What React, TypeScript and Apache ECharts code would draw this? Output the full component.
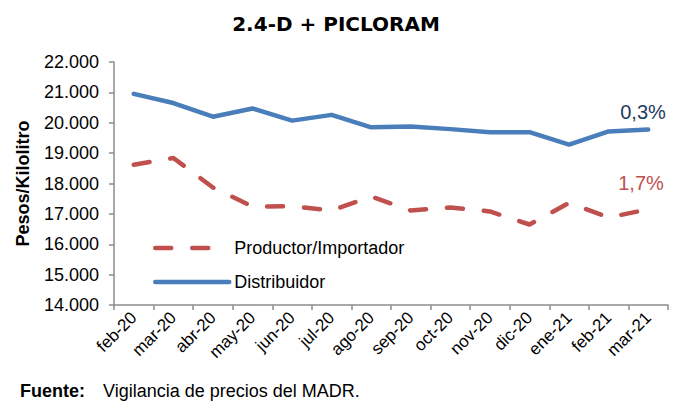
import React, { useEffect, useRef } from "react";
import * as echarts from "echarts";

const categories = ["feb-20", "mar-20", "abr-20", "may-20", "jun-20", "jul-20", "ago-20", "sep-20", "oct-20", "nov-20", "dic-20", "ene-21", "feb-21", "mar-21"];
const distribuidor = [20950, 20650, 20200, 20470, 20070, 20260, 19850, 19880, 19790, 19690, 19690, 19280, 19715, 19775];
const productor = [18620, 18840, 17870, 17240, 17250, 17110, 17570, 17110, 17210, 17080, 16650, 17360, 16880, 17150];
const distLabel = "0,3%";
const prodLabel = "1,7%";

const FONT = "'Liberation Sans', Arial, sans-serif";

export default function App() {
  const ref = useRef<HTMLDivElement>(null);
  useEffect(() => {
    document.body.style.margin = "0";
    if (!ref.current) return;
    const chart = echarts.init(ref.current, undefined, { renderer: "svg" });
    chart.setOption({
      animation: false,
      backgroundColor: "#ffffff",
      textStyle: { fontFamily: FONT },
      title: {
        text: "2.4-D + PICLORAM",
        left: 331,
        textAlign: "center",
        top: 9,
        textStyle: { fontSize: 20, fontWeight: "bold", color: "#000", fontFamily: "'DejaVu Sans', sans-serif" },
      },
      legend: {
        orient: "vertical",
        left: 153,
        top: 239,
        padding: 0,
        itemGap: 16,
        itemWidth: 74,
        itemHeight: 14,
        itemStyle: { opacity: 0 },
        lineStyle: { width: 4.5, cap: "round" },
        textStyle: { fontSize: 18, color: "#000", fontFamily: FONT },
        data: ["Productor/Importador", "Distribuidor"],
      },
      grid: { left: 114, right: 16, top: 62, bottom: 97, containLabel: false },
      xAxis: {
        type: "category",
        data: categories,
        boundaryGap: true,
        axisLine: { lineStyle: { color: "#8c8c8c", width: 1.5 } },
        axisTick: { show: true, length: 5, lineStyle: { color: "#8c8c8c", width: 1.5 } },
        axisLabel: { rotate: 45, fontSize: 17, color: "#000", margin: 10, fontFamily: FONT, interval: 0 },
      },
      yAxis: {
        type: "value",
        min: 14000,
        max: 22000,
        interval: 1000,
        name: "Pesos/Kilolitro",
        nameLocation: "middle",
        nameGap: 82,
        nameTextStyle: { fontSize: 18, fontWeight: "bold", color: "#000", fontFamily: FONT },
        axisLine: { show: true, lineStyle: { color: "#8c8c8c", width: 1.5 } },
        axisTick: { show: true, length: 5, lineStyle: { color: "#8c8c8c", width: 1.5 } },
        splitLine: { show: false },
        axisLabel: {
          fontSize: 18,
          color: "#000",
          margin: 15,
          fontFamily: FONT,
          formatter: (v: number) => (v / 1000).toFixed(3),
        },
      },
      series: [
        {
          name: "Productor/Importador",
          type: "line",
          data: productor,
          symbol: "none",
          itemStyle: { color: "#C0504D" },
          lineStyle: { color: "#C0504D", width: 4.5, type: [16, 21], cap: "round", join: "round" },
          endLabel: {
            show: true,
            formatter: prodLabel,
            color: "#C0504D",
            fontSize: 20,
            fontFamily: FONT,
            offset: [-38, -26],
          },
        },
        {
          name: "Distribuidor",
          type: "line",
          data: distribuidor,
          symbol: "none",
          itemStyle: { color: "#4A7EBB" },
          lineStyle: { color: "#4A7EBB", width: 4.5, cap: "round", join: "round" },
          endLabel: {
            show: true,
            formatter: distLabel,
            color: "#1F3A60",
            fontSize: 20,
            fontFamily: FONT,
            offset: [-36, -18],
          },
        },
      ],
      graphic: [
        {
          type: "text",
          left: 20,
          top: 382,
          style: { text: "Fuente:", font: `bold 18px ${FONT}`, fill: "#000" },
        },
        {
          type: "text",
          left: 103,
          top: 382,
          style: { text: "Vigilancia de precios del MADR.", font: `18px ${FONT}`, fill: "#000" },
        },
      ],
    });
    return () => chart.dispose();
  }, []);
  return <div ref={ref} style={{ width: 684, height: 402 }} />;
}
